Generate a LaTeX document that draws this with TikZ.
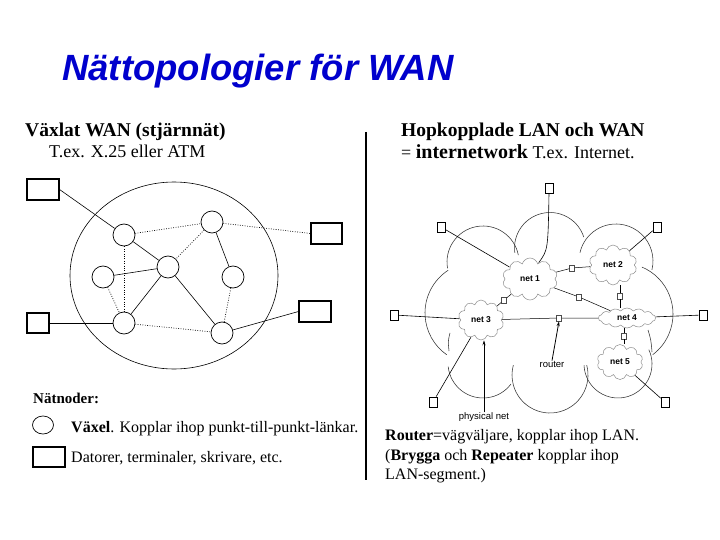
\documentclass[tikz,border=0pt]{standalone}
\usepackage{fontspec}
\setmainfont{Liberation Serif}
\newfontfamily\sansf{Liberation Sans}
\usetikzlibrary{shapes.geometric,shapes.symbols,arrows.meta}
\definecolor{titleblue}{RGB}{0,0,205}
\newcommand\lobearc[5]{\draw[lobe] ([shift={(#4:#3)}]#1,-#2) arc[start angle=#4,end angle=#5,radius=#3];}
\begin{document}
\begin{tikzpicture}[x=1pt,y=1pt,
  sw/.style={circle,draw,line width=0.7pt,minimum size=22pt,inner sep=0pt},
  term/.style={rectangle,draw,line width=1.1pt,inner sep=0pt},
  dotl/.style={line width=0.7pt,dash pattern=on 0.8pt off 1.6pt},
  pc/.style={rectangle,draw,line width=0.7pt,minimum width=8pt,minimum height=10pt,inner sep=0pt,fill=white},
  rt/.style={rectangle,draw=black!70,line width=0.5pt,minimum width=5pt,minimum height=6pt,inner sep=0pt,fill=white},
  lan/.style={cloud,cloud puffs=10,cloud ignores aspect,draw=black!45,line width=0.5pt,inner sep=0pt,font=\sansf\bfseries\fontsize{8.5}{10}\selectfont},
  lobe/.style={line width=0.55pt,draw=black!80},
  lab/.style={font=\sansf\fontsize{9.5}{10}\selectfont,inner sep=0pt},
  txt/.style={anchor=base west,inner sep=0pt},
  conn/.style={line width=0.6pt},
  rconn/.style={line width=0.5pt},
  arr/.style={line width=0.8pt,-{Stealth[length=5pt,width=3pt]}},
]
\fill[white] (0,0) rectangle (720,-540);
\useasboundingbox (0,0) rectangle (720,-540);

% title
\node[txt,font=\sansf\bfseries\itshape\fontsize{36.5}{40}\selectfont,text=titleblue] (title) at (62,-81) {Nättopologier för WAN};

% headings
\node[txt,font=\bfseries\fontsize{19.5}{22}\selectfont] (h1) at (25,-137) {Växlat WAN (stjärnnät)};
\node[txt,font=\fontsize{18}{20}\selectfont] (h1b) at (49,-158) {T.ex. X.25 eller ATM};
\node[txt,font=\bfseries\fontsize{19.5}{22}\selectfont] (h2) at (401,-137) {Hopkopplade LAN och WAN};
\node[txt,font=\fontsize{18}{20}\selectfont] (h2b) at (401,-159) {= {\bfseries\fontsize{20}{22}\selectfont internetwork} T.ex. Internet.};

% divider
\draw[line width=2pt] (366,-132) -- (366,-480);

% ---------- left: switched WAN ----------
\draw[line width=0.6pt] (174,-275.5) ellipse [x radius=104, y radius=93.5];
\node[sw] (A) at (124,-235) {};
\node[sw] (B) at (212,-222) {};
\node[sw] (C) at (168,-267) {};
\node[sw] (D) at (103,-277) {};
\node[sw] (E) at (233,-277) {};
\node[sw] (F) at (124,-323) {};
\node[sw] (G) at (222,-333) {};
\node[term,minimum width=32pt,minimum height=21pt] (TL) at (43,-189.5) {};
\node[term,minimum width=31pt,minimum height=21pt] (RU) at (326.5,-233.5) {};
\node[term,minimum width=22pt,minimum height=20pt] (BL) at (38,-323) {};
\node[term,minimum width=32pt,minimum height=21pt] (RL) at (315,-311.5) {};

\draw[conn] (TL.east) -- (A);
\draw[conn] (A) -- (C);
\draw[conn] (D) -- (C);
\draw[conn] (C) -- (F);
\draw[conn] (C) -- (G);
\draw[conn] (B) -- (E);
\draw[conn] (BL.east) -- (F);
\draw[conn] (G) -- (RL.west);
\draw[dotl] (A) -- (B);
\draw[dotl] (B) -- (RU.west);
\draw[dotl] (A) -- (F);
\draw[dotl] (B) -- (C);
\draw[dotl] (E) -- (G);
\draw[dotl] (F) -- (G);
\draw[dotl] (D) -- (F);

% legend
\node[txt,font=\bfseries\fontsize{15}{17}\selectfont] (nn) at (33,-403) {Nätnoder:};
\node[ellipse,draw,line width=0.7pt,minimum width=21pt,minimum height=18pt,inner sep=0pt] (lc) at (43,-425) {};
\node[txt,font=\fontsize{16}{18}\selectfont] (lt1) at (71,-432) {\textbf{Växel}. Kopplar ihop punkt-till-punkt-länkar.};
\node[term,minimum width=32pt,minimum height=20pt] (lb) at (49,-457) {};
\node[txt,font=\fontsize{16}{18}\selectfont] (lt2) at (71,-462) {Datorer, terminaler, skrivare, etc.};

% ---------- right: internetwork ----------
\lobearc{476}{313}{51}{123}{235}
\lobearc{483}{262}{36}{190}{11}
\lobearc{550}{248}{35.5}{188}{18}
\lobearc{616}{261}{37}{167}{-14}
\lobearc{622}{314}{51}{67}{-53}
\lobearc{618}{364}{34}{25}{-178}
\lobearc{550}{375}{38}{15}{-195}
\lobearc{483}{363}{35}{-37}{-174}
\draw[lobe] (450,-333) .. controls (448,-341) .. (449,-351);
\draw[lobe] (648,-330) .. controls (651,-340) .. (652,-352);

\node[lan,minimum width=55pt,minimum height=42pt] (n1) at (530,-279) {net 1};
\node[lan,minimum width=48pt,minimum height=40pt] (n2) at (613,-265) {net 2};
\node[lan,minimum width=46pt,minimum height=40pt] (n3) at (481,-320) {net 3};
\node[lan,minimum width=57pt,minimum height=20pt,cloud puffs=14,cloud puff arc=100] (n4) at (627,-318) {net 4};
\node[lan,minimum width=46pt,minimum height=35pt] (n5) at (620,-362) {net 5};

\node[pc] (tA) at (549,-188) {};
\node[pc] (tB) at (441,-227) {};
\node[pc] (tC) at (657,-227) {};
\node[pc] (tD) at (394,-315) {};
\node[pc] (tE) at (703,-315) {};
\node[pc] (tF) at (433,-402) {};
\node[pc] (tG) at (665,-402) {};

\draw[conn] (tA.south) .. controls (548,-250) .. (n1.62);
\draw[conn] (tB) -- (n1);
\draw[conn] (tC) -- (n2);
\draw[conn] (tD) -- (n3);
\draw[conn] (tE) -- (n4);
\draw[conn] (tF) -- (n3);
\draw[conn] (tG) -- (n5);

\node[rt] (r12) at (572,-268) {};
\node[rt] (r13) at (504,-300) {};
\node[rt] (r14) at (579,-297) {};
\node[rt] (r24) at (620,-296) {};
\node[rt] (r34) at (559,-318) {};
\node[rt] (r45) at (624,-336) {};

\draw[rconn] (n1) -- (r12) -- (n2);
\draw[rconn] (n1) -- (r13) -- (n3);
\draw[rconn] (n1) -- (r14) -- (n4);
\draw[rconn] (r24 |- n2.south) -- (r24) -- (r24 |- n4.north);
\draw[rconn] (n3) -- (r34) -- (n4);
\draw[rconn] (r45 |- n4.south) -- (r45) -- (r45 |- n5.north);

\node[lab] (rl) at (552,-364) {router};
\node[lab] (pn) at (484,-417) {physical net};
\draw[arr] (rl.north) -- (r34.south);
\draw[arr] (pn.north) -- (pn.north |- n3.south);

% bottom right text
\node[txt,font=\fontsize{16}{18}\selectfont] (rt1) at (385,-440) {\textbf{Router}=vägväljare, kopplar ihop LAN.};
\node[txt,font=\fontsize{16}{18}\selectfont] (rt2) at (385,-460) {(\textbf{Brygga} och \textbf{Repeater} kopplar ihop};
\node[txt,font=\fontsize{16}{18}\selectfont] (rt3) at (385,-479) {LAN-segment.)};
\end{tikzpicture}
\end{document}
